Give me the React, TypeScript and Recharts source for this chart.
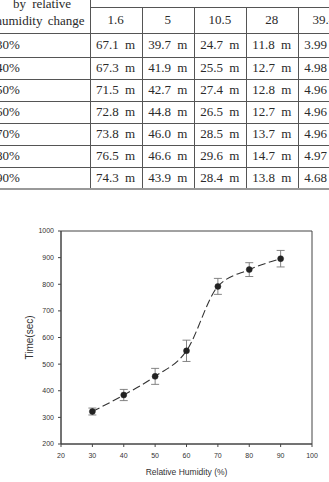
import React from 'react';
import { ComposedChart, Line, XAxis, YAxis, ErrorBar, ReferenceArea, Label } from 'recharts';

// ---- Table data ----
const sizeHeaders = ['1.6', '5', '10.5', '28', '39.4'];
const humidityRows = ['30%', '40%', '50%', '60%', '70%', '80%', '90%'];
const col16 = ['67.1', '67.3', '71.5', '72.8', '73.8', '76.5', '74.3'];
const col5 = ['39.7', '41.9', '42.7', '44.8', '46.0', '46.6', '43.9'];
const col105 = ['24.7', '25.5', '27.4', '26.5', '28.5', '29.6', '28.4'];
const col28 = ['11.8', '12.7', '12.8', '12.7', '13.7', '14.7', '13.8'];
const col394 = ['3.99', '4.98', '4.96', '4.96', '4.96', '4.97', '4.68'];
const tableColumns = [col16, col5, col105, col28, col394];

// ---- Chart data ----
const humidity = [30, 40, 50, 60, 70, 80, 90];
const timeSec = [322, 384, 454, 550, 792, 855, 896];
const timeErr = [13, 21, 30, 40, 30, 26, 31];
const xTicks = [20, 30, 40, 50, 60, 70, 80, 90, 100];
const yTicks = [200, 300, 400, 500, 600, 700, 800, 900, 1000];

const chartData = humidity.map((h, i) => ({ rh: h, t: timeSec[i], err: timeErr[i] }));

// ---- Table layout ----
const colX = [89.5, 141.7, 194, 245.7, 297.7, 350];
const rowY = [33.3, 57.3, 79, 101, 123.3, 145.3, 166.7, 188];
const headerLineY = 7;
const lineColor = '#555';

const serif = '"Liberation Serif", "Times New Roman", serif';
const sans = '"Liberation Sans", Arial, sans-serif';

function Table() {
  const els: React.ReactNode[] = [];
  els.push(
    <div key="hh" style={{ position: 'absolute', left: colX[0], top: headerLineY, width: 329 - colX[0], height: 1, background: lineColor }} />
  );
  rowY.forEach((y, i) => {
    const last = i === rowY.length - 1;
    els.push(
      <div key={'r' + i} style={{ position: 'absolute', left: 0, top: y, width: 329, height: last ? 2 : 1, background: last ? '#999' : lineColor }} />
    );
  });
  colX.slice(0, 5).forEach((x, i) => {
    const top = i === 0 ? 0 : headerLineY;
    els.push(
      <div key={'v' + i} style={{ position: 'absolute', left: x, top, width: 1, height: rowY[rowY.length - 1] - top, background: lineColor }} />
    );
  });
  els.push(
    <div key="lh1" style={{ position: 'absolute', left: -8, top: -4, width: 100, textAlign: 'center', fontSize: 13, lineHeight: '16px', wordSpacing: 3 }}>by relative</div>
  );
  els.push(
    <div key="lh2" style={{ position: 'absolute', left: -10, top: 13, width: 100, textAlign: 'center', fontSize: 13, lineHeight: '16px', wordSpacing: 2 }}>humidity change</div>
  );
  sizeHeaders.forEach((s, i) => {
    els.push(
      <div key={'sh' + i} style={{ position: 'absolute', left: colX[i], top: headerLineY, width: colX[i + 1] - colX[i], height: rowY[0] - headerLineY, lineHeight: (rowY[0] - headerLineY) + 'px', textAlign: 'center', fontSize: 13 }}>{s}</div>
    );
  });
  humidityRows.forEach((r, ri) => {
    const top = rowY[ri];
    const h = rowY[ri + 1] - rowY[ri];
    els.push(
      <div key={'rh' + ri} style={{ position: 'absolute', left: -4, top, height: h, lineHeight: h + 'px', fontSize: 13 }}>{r}</div>
    );
    tableColumns.forEach((col, ci) => {
      els.push(
        <div key={'c' + ri + '_' + ci} style={{ position: 'absolute', left: colX[ci], top, width: colX[ci + 1] - colX[ci], height: h, lineHeight: h + 'px', textAlign: 'center', fontSize: 13, wordSpacing: 3, whiteSpace: 'nowrap' }}>{col[ri] + ' m'}</div>
      );
    });
  });
  return <>{els}</>;
}

export default function App() {
  const tickStyle = { fontSize: 7, fill: '#333', fontFamily: '"Liberation Sans Narrow", ' + sans };
  return (
    <div style={{ position: 'absolute', left: 0, top: 0, width: 329, height: 482, overflow: 'hidden', background: '#fff', fontFamily: serif, color: '#2a2a2a' }}>
      <Table />
      <div style={{ position: 'absolute', left: 0, top: 190 }}>
        <ComposedChart width={329} height={292} data={chartData} margin={{ top: 41, right: 17, left: 0, bottom: 0 }}>
          <XAxis
            dataKey="rh"
            type="number"
            domain={[20, 100]}
            ticks={xTicks}
            interval={0}
            height={38}
            stroke="#444"
            tickSize={3}
            tickMargin={6}
            tick={tickStyle}
          >
            <Label value="Relative Humidity (%)" position="insideBottom" offset={7} style={{ fontSize: 8.5, fill: '#333', fontFamily: sans }} />
          </XAxis>
          <YAxis
            type="number"
            domain={[200, 1000]}
            ticks={yTicks}
            interval={0}
            width={61}
            stroke="#444"
            tickSize={3}
            tickMargin={4}
            tick={tickStyle}
          >
            <Label value="Time(sec)" angle={-90} position="insideLeft" offset={29} style={{ fontSize: 10, fill: '#333', fontFamily: sans, textAnchor: 'middle' }} />
          </YAxis>
          <ReferenceArea x1={20} x2={100} y1={200} y2={1000} fill="none" stroke="#444" strokeWidth={1} ifOverflow="visible" />
          <Line
            type="monotone"
            dataKey="t"
            stroke="#333"
            strokeWidth={1.1}
            strokeDasharray="8 3.5"
            dot={{ r: 3, fill: '#222', stroke: '#222', strokeWidth: 0.5, strokeDasharray: '' }}
            isAnimationActive={false}
          >
            <ErrorBar dataKey="err" direction="y" width={4} stroke="#777" strokeWidth={0.9} />
          </Line>
        </ComposedChart>
      </div>
    </div>
  );
}
